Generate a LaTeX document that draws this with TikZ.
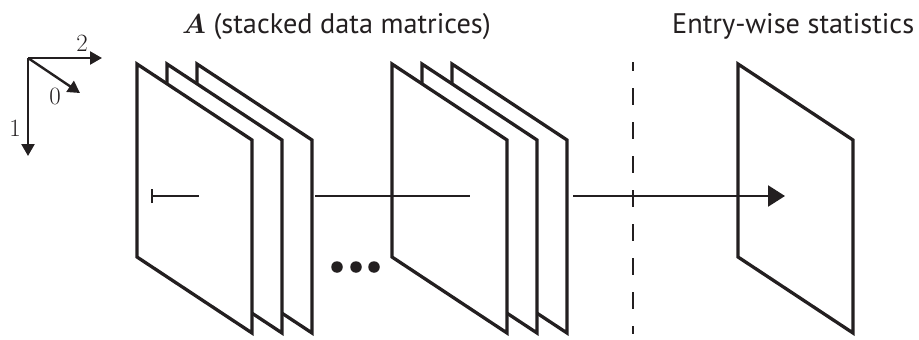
\documentclass[tikz,border=0pt]{standalone}
\usepackage{amsmath}
\usepackage[no-math]{fontspec}
\setmainfont{PT Sans}
\usetikzlibrary{arrows.meta}
\definecolor{ink}{RGB}{35,31,32}
\tikzset{
  plane/.style={draw=ink, fill=white, line width=3.3pt, line join=miter},
  axisarrow/.style={draw=ink, line width=2.4pt, -{Triangle[length=12pt,width=13pt]}},
  axislabel/.style={font=\fontsize{28}{28}\selectfont, text=ink, inner sep=0pt},
  link/.style={line width=2.2pt, draw=ink},
  title/.style={font=\fontsize{28.3}{32}\selectfont, text=ink, inner sep=0pt, anchor=base west},
  dot/.style={circle, fill=ink, inner sep=0pt, minimum size=11.5pt}
}
\newcommand{\myplane}[1]{\filldraw[plane] (#1,64) -- ++(115,76) -- ++(0,193) -- ++(-115,-76) -- cycle;}
\begin{document}
\begin{tikzpicture}[x=1pt,y=-1pt]
\useasboundingbox (0,0) rectangle (919,340);
% titles
\node[title] (t1) at (182,33) {\scalebox{1.1}{$\boldsymbol{A}$} (stacked data matrices)};
\node[title] (t2) at (672,33) {Entry-wise statistics};
% axes
\coordinate (o) at (28,58);
\coordinate (a2) at (102,58);
\coordinate (a1) at (28,156);
\coordinate (a0) at (80,93);
\draw[axisarrow] (o) -- (a2);
\draw[axisarrow] (o) -- (a1);
\draw[axisarrow] (o) -- (a0);
\node[axislabel] (l2) at (82,43) {$2$};
\node[axislabel] (l0) at (55,96) {$0$};
\node[axislabel] (l1) at (15,128) {$1$};
% stacks
\myplane{197}\myplane{167}\myplane{137}
\myplane{452}\myplane{422}\myplane{392}
\myplane{738}
% dashed divider
\coordinate (d1) at (633,62);
\coordinate (d2) at (633,334);
\draw[line width=2.4pt, draw=ink, dash pattern=on 17pt off 17pt, dash phase=7.7pt] (d1) -- (d2);
% connectors
\coordinate (s1a) at (151,196);
\coordinate (s1b) at (199,196);
\coordinate (s2a) at (315,196);
\coordinate (s2b) at (470,196);
\coordinate (s3a) at (573,196);
\coordinate (s3b) at (785,196);
\draw[link, {Bar[width=14pt]}-] (s1a) -- (s1b);
\draw[link] (s2a) -- (s2b);
\draw[link, line width=2.4pt, -{Triangle[length=17pt,width=21pt]}] (s3a) -- (s3b);
% dots
\node[dot] (e1) at (337,267) {};
\node[dot] (e2) at (356,267) {};
\node[dot] (e3) at (374,267) {};
\end{tikzpicture}
\end{document}
